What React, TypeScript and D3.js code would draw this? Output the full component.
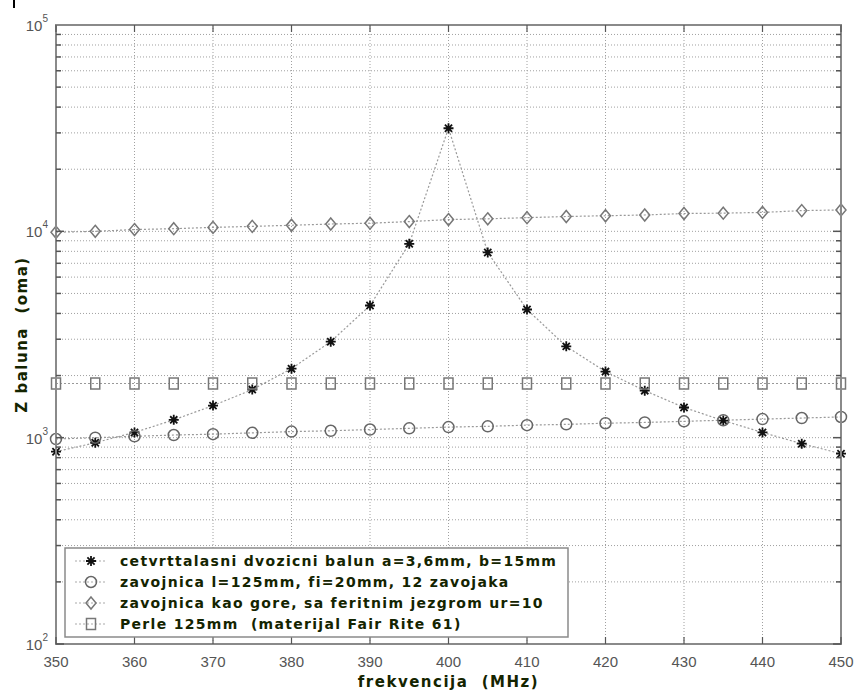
import React from 'react';
import * as d3 from 'd3';

const width = 857;
const height = 690;
const margin = { left: 56, right: 15, top: 25, bottom: 46 };

const freqs = [350, 355, 360, 365, 370, 375, 380, 385, 390, 395, 400, 405, 410, 415, 420, 425, 430, 435, 440, 445, 450];
const balun = [855, 945, 1060, 1220, 1430, 1710, 2160, 2920, 4370, 8700, 31600, 7900, 4180, 2770, 2090, 1690, 1400, 1210, 1060, 935, 836];
const coil = [985, 1000, 1015, 1030, 1040, 1055, 1070, 1080, 1095, 1110, 1125, 1135, 1150, 1160, 1175, 1185, 1200, 1215, 1230, 1245, 1260];
const ferrite = [9900, 10000, 10200, 10300, 10450, 10570, 10700, 10850, 10950, 11150, 11400, 11500, 11650, 11800, 11900, 12000, 12200, 12250, 12350, 12600, 12700];
const beads = [1830, 1830, 1830, 1830, 1830, 1830, 1830, 1830, 1830, 1830, 1830, 1830, 1830, 1830, 1830, 1830, 1830, 1830, 1830, 1830, 1830];

const legendLabels = [
  'cetvrttalasni dvozicni balun a=3,6mm, b=15mm',
  'zavojnica l=125mm, fi=20mm, 12 zavojaka',
  'zavojnica kao gore, sa feritnim jezgrom ur=10',
  'Perle 125mm  (materijal Fair Rite 61)',
];
const xTicks = [350, 360, 370, 380, 390, 400, 410, 420, 430, 440, 450];
const yDecades = [2, 3, 4, 5];

const textColor = '#142400';
const axisColor = '#8a8a8a';
const boldFont = "'DejaVu Sans', Verdana, sans-serif";

const x = d3.scaleLinear().domain([350, 450]).range([margin.left, width - margin.right - 1]);
const y = d3.scaleLog().domain([100, 100000]).range([height - margin.bottom, margin.top]);

const minorY: number[] = [];
[100, 1000, 10000].forEach(b => {
  for (let k = 1; k < 10; k++) minorY.push(b * k);
});
const isDecade = (v: number) => [100, 1000, 10000].includes(v);

const Marker = ({ kind, cx, cy }: { kind: string; cx: number; cy: number }) => {
  if (kind === 'star') {
    const r = 5;
    const d = r * 0.72;
    return (
      <path
        d={`M${cx - r},${cy}H${cx + r}M${cx},${cy - r}V${cy + r}M${cx - d},${cy - d}L${cx + d},${cy + d}M${cx - d},${cy + d}L${cx + d},${cy - d}`}
        stroke="#111" strokeWidth={1.8} />
    );
  }
  if (kind === 'circle') {
    return <circle cx={cx} cy={cy} r={5.5} fill="none" stroke="#666" strokeWidth={1.5} />;
  }
  if (kind === 'diamond') {
    const r = 6;
    return (
      <path d={`M${cx},${cy - r}L${cx + r - 1},${cy}L${cx},${cy + r}L${cx - r + 1},${cy}Z`}
        fill="none" stroke="#777" strokeWidth={1.5} />
    );
  }
  return <rect x={cx - 4.5} y={cy - 5.5} width={9} height={11} fill="none" stroke="#777" strokeWidth={1.5} />;
};

const series = [
  { values: balun, kind: 'star' },
  { values: coil, kind: 'circle' },
  { values: ferrite, kind: 'diamond' },
  { values: beads, kind: 'square' },
];

const App = () => {
  const line = d3.line<number>().x((_, i) => x(freqs[i])).y(v => y(v));
  const x0 = x(350);
  const x1 = x(450);
  const y0 = y(100);
  const y1 = y(100000);
  const legX = 65;
  const legY = 548;
  const legW = 503;
  const legH = 89;

  return (
    <svg width={width} height={height} style={{ position: 'absolute', left: 0, top: 0, background: '#fff' }}
      fontFamily="Arial, 'Liberation Sans', sans-serif">
      <rect x={13} y={0} width={2} height={8} fill="#000" />

      {/* grid */}
      {minorY.map(v => (
        <line key={'gy' + v} x1={x0} x2={x1} y1={y(v)} y2={y(v)} stroke="#a0a0a0" strokeDasharray="1 2" />
      ))}
      {xTicks.slice(1, -1).map(t => (
        <line key={'gx' + t} x1={x(t)} x2={x(t)} y1={y1} y2={y0} stroke="#a0a0a0" strokeDasharray="1 2" />
      ))}

      {/* series lines */}
      {series.map((s, i) => (
        <path key={'l' + i} d={line(s.values) || ''} fill="none" stroke="#999" strokeWidth={1.2} strokeDasharray="2 2" />
      ))}
      {series.map((s, i) => (
        <g key={'m' + i}>
          {s.values.map((v, j) => <Marker key={j} kind={s.kind} cx={x(freqs[j])} cy={y(v)} />)}
        </g>
      ))}

      {/* axes box */}
      <rect x={x0} y={y1} width={x1 - x0} height={y0 - y1} fill="none" stroke={axisColor} strokeWidth={2} />
      {minorY.map(v => (
        <g key={'ty' + v}>
          <line x1={x0} x2={x0 + (isDecade(v) ? 8 : 5)} y1={y(v)} y2={y(v)} stroke="#555" strokeWidth={1.5} />
          <line x1={x1} x2={x1 - (isDecade(v) ? 8 : 5)} y1={y(v)} y2={y(v)} stroke="#555" strokeWidth={1.5} />
        </g>
      ))}
      {xTicks.map(t => (
        <g key={'tx' + t}>
          <line x1={x(t)} x2={x(t)} y1={y0} y2={y0 - 7} stroke="#555" strokeWidth={1.2} />
          <line x1={x(t)} x2={x(t)} y1={y1} y2={y1 + 7} stroke="#555" strokeWidth={1.2} />
          <text x={x(t)} y={y0 + 23} textAnchor="middle" fontSize={15} fill="#555">{t}</text>
        </g>
      ))}
      {yDecades.map(e => (
        <text key={'yl' + e} x={x0 - 8} y={y(Math.pow(10, e)) + 6} textAnchor="end" fontSize={15} fill="#555">
          10<tspan dy={-9} fontSize={10}>{e}</tspan>
        </text>
      ))}

      {/* legend */}
      <rect x={legX} y={legY} width={legW} height={legH} fill="#fff" stroke={axisColor} strokeWidth={1.5} />
      {series.map((s, i) => {
        const ly = legY + 13 + i * 21;
        return (
          <g key={'lg' + i}>
            <line x1={legX + 10} x2={legX + 42} y1={ly} y2={ly} stroke="#aaa" strokeWidth={1.2} strokeDasharray="2 2" />
            <Marker kind={s.kind} cx={legX + 26} cy={ly} />
            <text x={legX + 55} y={ly + 5} fontSize={14} fontWeight="bold" fill={textColor} letterSpacing={1.3}
              fontFamily={boldFont} style={{ whiteSpace: 'pre' }}>
              {legendLabels[i]}
            </text>
          </g>
        );
      })}

      {/* axis labels */}
      <text x={(x0 + x1) / 2} y={height - 3} textAnchor="middle" fontSize={15} fontWeight="bold" fill={textColor}
        letterSpacing={1.5} fontFamily={boldFont} style={{ whiteSpace: 'pre' }}>
        {'frekvencija  (MHz)'}
      </text>
      <text transform={`translate(27,${(y0 + y1) / 2}) rotate(-90)`} textAnchor="middle" fontSize={15} fontWeight="bold"
        fill={textColor} letterSpacing={1.5} fontFamily={boldFont} style={{ whiteSpace: 'pre' }}>
        {'Z baluna  (oma)'}
      </text>
    </svg>
  );
};

export default App;
